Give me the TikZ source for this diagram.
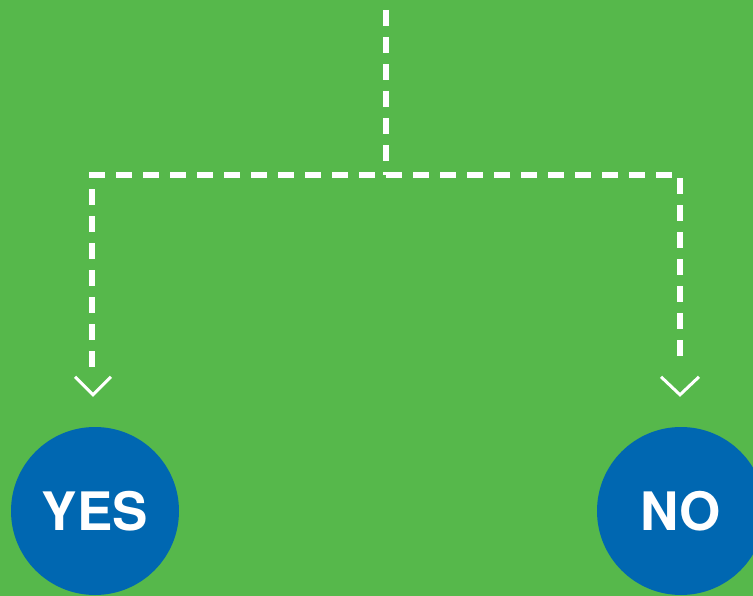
\documentclass[tikz,border=0pt]{standalone}
\usepackage{fontspec}
\setmainfont{TeX Gyre Heros}
\usetikzlibrary{calc}
\definecolor{bggreen}{HTML}{56B84B}
\definecolor{circblue}{HTML}{0067B1}
\begin{document}
\begin{tikzpicture}[x=1pt,y=-1pt,
  answer/.style={circle,fill=circblue,minimum size=168pt,inner sep=0pt,
    text=white,font=\bfseries\fontsize{53}{53}\selectfont},
  conn/.style={white,line width=6.5pt,dash pattern=on 16pt off 11pt},
  chevron/.style={white,line width=3pt}]
\useasboundingbox (0,0) rectangle (753,596);
\clip (0,0) rectangle (753,596);
\fill[bggreen] (0,0) rectangle (753,596);
\node[answer] (yes) at (95,511) {YES};
\node[answer] (no) at (681,511) {NO};
\coordinate (top) at (386,10);
\coordinate (split) at (386,175);
\coordinate (yesend) at ($(yes.north)+(-3,-60)$);
\coordinate (noend) at ($(no.north)+(-1,-60)$);
\draw[conn] (top) -- (split);
\draw[conn] (yesend) |- (split) -| (noend);
\draw[chevron] ($(yes.north)+(-20,-50)$) -- ($(yes.north)+(-2,-32)$) -- ($(yes.north)+(16,-50)$);
\draw[chevron] ($(no.north)+(-20,-50)$) -- ($(no.north)+(-1,-32)$) -- ($(no.north)+(18,-50)$);
\end{tikzpicture}
\end{document}
